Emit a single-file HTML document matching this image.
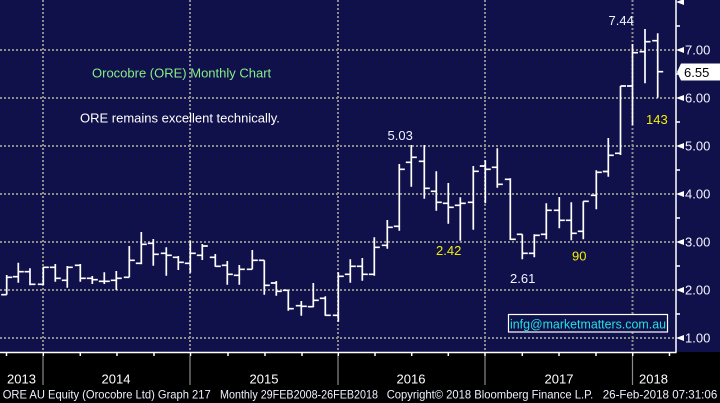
<!DOCTYPE html>
<html><head><meta charset="utf-8"><style>
html,body{margin:0;padding:0;background:#000;}
svg{display:block;}
text{font-family:"Liberation Sans",Arial,sans-serif;}
</style></head><body>
<svg width="720" height="403" viewBox="0 0 720 403" xmlns="http://www.w3.org/2000/svg">
<rect x="0" y="0" width="720" height="403" fill="#000"/>
<rect x="0" y="0" width="720" height="352" fill="#10104a"/>
<!-- grid -->
<g stroke="#8c8c8c" stroke-width="2" stroke-dasharray="2,2" fill="none">
<path d="M0 50H676M0 98H676M0 146H676M0 194H676M0 242H676M0 290H676M0 338H676"/>
<path d="M43 0V352M190 0V352M338 0V352M485 0V352M632.5 0V352"/>
</g>
<!-- axes -->
<g stroke="#fff" stroke-width="1.5" fill="none">
<path d="M676 0V352.5M0 352.5H676.5"/>
<path d="M676 26H680M676 74H680M676 122H680M676 170H680M676 218H680M676 266H680M676 314H680"/>
<path d="M6.5 352V356M43.3 352V356M80.3 352V356M117 352V356M154 352V356M190.5 352V356M228 352V356M265 352V356M302 352V356M338.3 352V356M375 352V356M411.7 352V356M448.3 352V356M485 352V356M522.3 352V356M559 352V356M596 352V356M632.7 352V356M669.5 352V356"/>
</g>
<g stroke="#8a8a8a" stroke-width="1.2">
<path d="M43 356V385M190 356V385M338 356V385M485 356V385M632.5 356V385"/>
</g>
<g fill="#fff">
<polygon points="676,2 684,-1 684,5"/>
<polygon points="676,50 684,47 684,53"/>
<polygon points="676,98 684,95 684,101"/>
<polygon points="676,146 684,143 684,149"/>
<polygon points="676,194 684,191 684,197"/>
<polygon points="676,242 684,239 684,245"/>
<polygon points="676,290 684,287 684,293"/>
<polygon points="676,338 684,335 684,341"/>
</g>
<g fill="#f4f6ff" font-size="13">
<text x="685" y="54.5">7.00</text>
<text x="685" y="102.5">6.00</text>
<text x="685" y="150.5">5.00</text>
<text x="685" y="198.5">4.00</text>
<text x="685" y="246.5">3.00</text>
<text x="685" y="294.5">2.00</text>
<text x="685" y="342.5">1.00</text>
</g>
<polygon points="677,72 681,63.5 720,63.5 720,80.5 681,80.5" fill="#fff"/>
<text x="684" y="76.8" font-size="13" fill="#000">6.55</text>
<!-- bars -->
<path fill="none" stroke="#fff" stroke-width="1.7" d="
M6.7 275V294.7M1.2 294.7H6.7M6.7 277.3H12.2
M18.3 262.7V282.7M12.8 276.7H18.3M18.3 271.7H23.8
M30 268.3V285.3M24.5 271.7H30M30 284.3H35.5
M43.3 266.7V285M37.8 284.3H43.3M43.3 267.3H48.8
M55.3 264V281.7M49.8 267.3H55.3M55.3 278.3H60.8
M67.3 266V287.7M61.8 280.3H67.3M67.3 267.3H72.8
M80.3 264V281.7M74.8 265.3H80.3M80.3 278.3H85.8
M92.3 276V284M86.8 278.3H92.3M92.3 279.7H97.8
M104.3 272.3V284M98.8 281.3H104.3M104.3 281.3H109.8
M116.3 271V290M110.8 280.3H116.3M116.3 278.3H121.8
M129.3 246V277.3M123.8 277.3H129.3M129.3 260.3H134.8
M141.3 232V264.3M135.8 263.3H141.3M141.3 244.3H146.8
M153.3 239V265.7M147.8 243.3H153.3M153.3 254.3H158.8
M166.3 247.3V275.7M160.8 253.3H166.3M166.3 255.3H171.8
M178.3 256V270M172.8 257.3H178.3M178.3 262.3H183.8
M190.3 240.7V272.7M184.8 263.3H190.3M190.3 253.3H195.8
M202.3 244V260M196.8 255.3H202.3M202.3 246H207.8
M215.3 254V266.7M209.8 257.3H215.3M215.3 266.3H220.8
M227.3 261V284.7M221.8 265.3H227.3M227.3 274.3H232.8
M239.3 265V284.7M233.8 275.3H239.3M239.3 269.3H244.8
M252.3 250V269.3M246.8 269.3H252.3M252.3 260.3H257.8
M264.3 260.3V294.7M258.8 260.3H264.3M264.3 285.3H269.8
M276.3 281V295.7M270.8 283H276.3M276.3 291.3H281.8
M288.3 290.3V310.7M282.8 290.3H288.3M288.3 308.7H293.8
M301.3 301V315.7M295.8 305.7H301.3M301.3 306.3H306.8
M313.3 283V307.3M307.8 306.7H313.3M313.3 300.3H318.8
M325.3 296.3V315.7M319.8 298.3H325.3M325.3 315.3H330.8
M338.3 272.3V321.7M332.8 315.3H338.3M338.3 276.3H343.8
M350.3 259.3V282.7M344.8 274.3H350.3M350.3 266.3H355.8
M362.3 258V280.7M356.8 266.3H362.3M362.3 274.3H367.8
M374.3 237.3V275.7M368.8 274.3H374.3M374.3 247.3H379.8
M387.3 220V248.7M381.8 245.3H387.3M387.3 227.3H392.8
M399.3 164V230.7M393.8 226.3H399.3M399.3 169.3H404.8
M411.3 145V186.7M405.8 162.3H411.3M411.3 157.3H416.8
M424.3 145V198.7M418.8 161.3H424.3M424.3 188.3H429.8
M436.3 171.3V210.7M430.8 191.3H436.3M436.3 202.3H441.8
M448.3 183V223.7M442.8 203.3H448.3M448.3 207.3H453.8
M460.3 197.3V240.7M454.8 205.3H460.3M460.3 203.3H465.8
M473.3 166V229.7M467.8 202.3H473.3M473.3 171.3H478.8
M485.3 160.3V203.3M479.8 166H485.3M485.3 169.3H490.8
M497.3 148.3V187.7M491.8 167.3H497.3M497.3 184.3H502.8
M510.3 178.3V240M504.8 179.3H510.3M510.3 239.3H515.8
M522.3 234.3V259.3M516.8 234.3H522.3M522.3 253.3H527.8
M534.3 234.3V257.3M528.8 253.3H534.3M534.3 235.3H539.8
M546.3 203.3V239.3M540.8 234.3H546.3M546.3 210.3H551.8
M559.3 197V228.3M553.8 210.3H559.3M559.3 220.3H564.8
M571.3 202.3V240.3M565.8 220.3H571.3M571.3 233.3H576.8
M583.3 201.3V239.3M577.8 231.3H583.3M583.3 201.3H588.8
M596.3 170.3V209.3M590.8 195.3H596.3M596.3 172.3H601.8
M608.3 138V176.7M602.8 171.5H608.3M608.3 155.3H613.8
M620.5 86V155M615 153.3H620.5M620.5 86H626
M632.5 44V125M627 86H632.5M632.5 52.7H638
M645 29V83.3M639.5 51.7H645M645 41.7H650.5
M657.7 33.3V97.7M652.2 40.7H657.7M657.7 71.7H663.2"/>
<!-- annotations -->
<text x="92" y="77.5" font-size="13" fill="#86ee86">Orocobre (ORE) Monthly Chart</text>
<text x="80" y="122.5" font-size="13" fill="#fff">ORE remains excellent technically.</text>
<g font-size="13">
<text x="387.5" y="140" fill="#f0f4ff">5.03</text>
<text x="436" y="255" fill="#f0f000">2.42</text>
<text x="510" y="283" fill="#f0f4ff">2.61</text>
<text x="572" y="260.5" fill="#f0f000">90</text>
<text x="646" y="124" fill="#f0f000">143</text>
<text x="608.5" y="25" fill="#f0f4ff">7.44</text>
</g>
<rect x="508.5" y="314.5" width="159" height="17.5" fill="#10104a" stroke="#fff" stroke-width="1.2"/>
<text x="510" y="328.3" font-size="13" fill="#22e0e0" textLength="156" lengthAdjust="spacingAndGlyphs">infg@marketmatters.com.au</text>
<!-- x-axis labels -->
<g font-size="13" fill="#fff" text-anchor="middle">
<text x="21.5" y="383.5">2013</text>
<text x="116" y="383.5">2014</text>
<text x="264" y="383.5">2015</text>
<text x="411" y="383.5">2016</text>
<text x="559" y="383.5">2017</text>
<text x="653.5" y="383.5">2018</text>
</g>
<!-- footer -->
<g font-size="12" fill="#eef0ff">
<text x="2.7" y="398.5" textLength="208" lengthAdjust="spacingAndGlyphs">ORE AU Equity (Orocobre Ltd) Graph 217</text>
<text x="220" y="398.5" textLength="158" lengthAdjust="spacingAndGlyphs">Monthly 29FEB2008-26FEB2018</text>
<text x="386.7" y="398.5" textLength="206.6" lengthAdjust="spacingAndGlyphs">Copyright© 2018 Bloomberg Finance L.P.</text>
<text x="602.7" y="398.5" textLength="114.6" lengthAdjust="spacingAndGlyphs">26-Feb-2018 07:31:06</text>
</g>
</svg>
</body></html>
